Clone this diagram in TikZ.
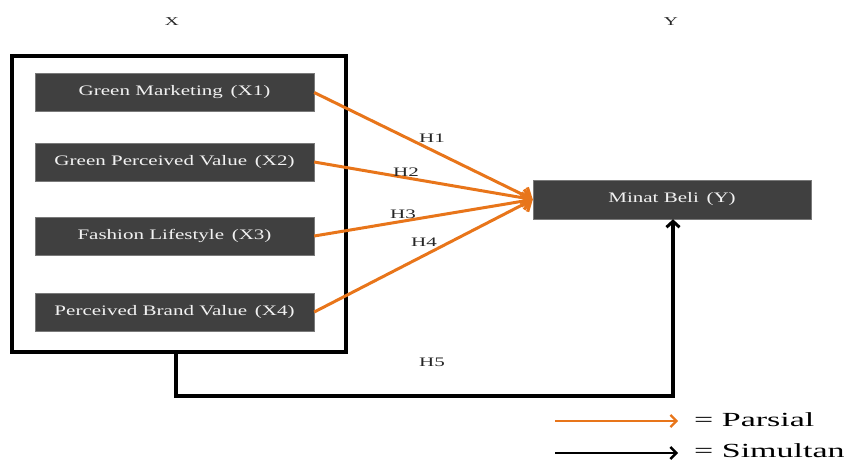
\documentclass[tikz,border=0pt]{standalone}
\usepackage{fontspec}
\setmainfont[FakeStretch=1.45]{Liberation Serif}
\newfontfamily\labelfont[FakeStretch=1.62]{Liberation Serif}
\newfontfamily\legendfont[FakeStretch=1.7]{Liberation Serif}
\usetikzlibrary{arrows.meta}
\definecolor{boxgray}{HTML}{404040}
\definecolor{partial}{HTML}{E8751A}
\tikzset{
  varbox/.style={fill=boxgray, draw=boxgray!70, text=white!95!black, minimum height=38pt,
    inner sep=0pt, font=\fontsize{14.5}{16}\selectfont},
  hlabel/.style={font=\labelfont\fontsize{13}{15}\selectfont, text=black!85},
  headlabel/.style={font=\labelfont\fontsize{12}{14}\selectfont, text=black!85},
  legendtext/.style={anchor=west, inner sep=0pt, font=\legendfont\fontsize{20}{24}\selectfont},
  parsial/.style={draw=partial, line width=3pt, -{Straight Barb[length=8pt,width=17pt,line width=3.2pt]}},
  simultan/.style={draw=black, line width=3.6pt, -{Straight Barb[length=6pt,width=13pt,line width=3pt]}},
}
\begin{document}
\begin{tikzpicture}[x=1pt,y=-1pt]
\useasboundingbox (0,0) rectangle (851,461);
% axis headers
\node[headlabel] (xhead) at (172,22) {X};
\node[headlabel] (yhead) at (671,22) {Y};
% frame around the independent variables
\draw[line width=3.6pt] (12,56) rectangle (346,352);
\coordinate (frameb) at (176,352);
% independent variables
\node[varbox, minimum width=279pt] (x1) at (174.5,92.5) {Green Marketing\, (X1)};
\node[varbox, minimum width=279pt] (x2) at (174.5,162) {Green Perceived Value\, (X2)};
\node[varbox, minimum width=279pt] (x3) at (174.5,236) {Fashion Lifestyle\, (X3)};
\node[varbox, minimum width=279pt] (x4) at (174.5,312) {Perceived Brand Value\, (X4)};
% dependent variable
\node[varbox, minimum width=278pt, minimum height=39pt] (y) at (672,199.5) {Minat Beli\, (Y)};
% partial effects
\foreach \i in {1,...,4}
  \draw[parsial] (x\i.east) -- (y.west);
\node[hlabel] (h1) at (432,138) {H1};
\node[hlabel] (h2) at (406,172) {H2};
\node[hlabel] (h3) at (403,214) {H3};
\node[hlabel] (h4) at (424,242) {H4};
% simultaneous effect
\coordinate (corner1) at (176,396);
\coordinate (corner2) at (673,396);
\draw[simultan] (frameb) -- (corner1) -- (corner2) -- (y.south -| corner2);
\node[hlabel] (h5) at (432,362) {H5};
% legend
\coordinate (la1) at (555,421);
\coordinate (la2) at (678,421);
\coordinate (lb1) at (555,453);
\coordinate (lb2) at (678,453);
\draw[draw=partial, line width=2.2pt, -{Straight Barb[length=6pt,width=12pt,line width=2.2pt]}] (la1) -- (la2);
\draw[draw=black, line width=2.4pt, -{Straight Barb[length=6pt,width=12pt,line width=2.4pt]}] (lb1) -- (lb2);
\node[legendtext] (lp) at (694,420) {= Parsial};
\node[legendtext] (ls) at (694,451) {= Simultan};
\end{tikzpicture}
\end{document}
